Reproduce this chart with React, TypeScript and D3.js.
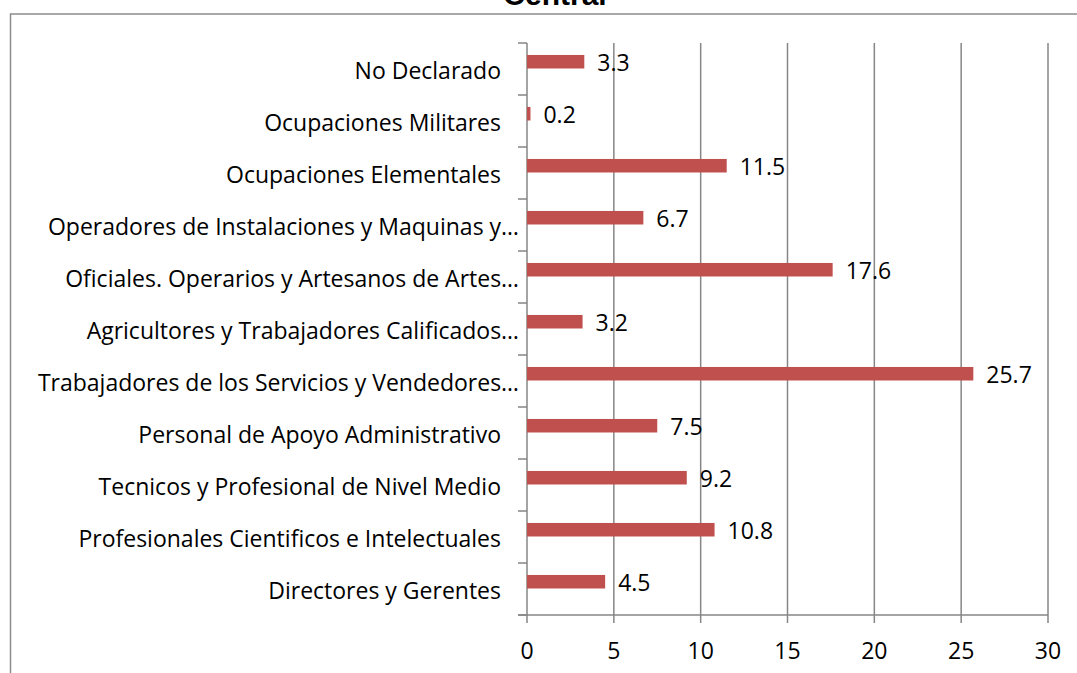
import React from "react";
import * as d3 from "d3";

const title = "Central";
const categories = [
  "Directores y Gerentes",
  "Profesionales Cientificos e Intelectuales",
  "Tecnicos y Profesional de Nivel Medio",
  "Personal de Apoyo Administrativo",
  "Trabajadores de los Servicios y Vendedores…",
  "Agricultores y Trabajadores Calificados…",
  "Oficiales. Operarios y Artesanos de Artes…",
  "Operadores de Instalaciones y Maquinas y…",
  "Ocupaciones Elementales",
  "Ocupaciones Militares",
  "No Declarado",
];
const values = [4.5, 10.8, 9.2, 7.5, 25.7, 3.2, 17.6, 6.7, 11.5, 0.2, 3.3];
const xTicks = [0, 5, 10, 15, 20, 25, 30];

const W = 1077;
const H = 673;
const FONT = "'Open Sans', Lato, sans-serif";
const FS = 23;
const GRID = "#868686";
const BAR = "#C0504D";

export default function App() {
  const x = d3.scaleLinear().domain([0, 30]).range([527, 1048]);
  const y = d3
    .scaleBand<string>()
    .domain([...categories].reverse())
    .range([43, 615])
    .padding(0);
  const bw = y.bandwidth();
  const boundaries = d3.range(categories.length + 1).map((i) => 43 + i * bw);

  return (
    <svg
      width={W}
      height={H}
      style={{ position: "absolute", left: 0, top: 0, background: "#fff" }}
      fontFamily={FONT}
    >
      <rect x={0} y={0} width={W} height={H} fill="#fff" />
      <rect x={10.5} y={14} width={W + 50} height={H + 50} fill="none" stroke="#8c8c8c" strokeWidth={1.5} />
      <text x={555} y={5} textAnchor="middle" fontWeight="bold" fontSize={30} fill="#000" fontFamily="'Liberation Sans', Arial, sans-serif">
        {title}
      </text>

      {xTicks.slice(1).map((t) => (
        <line key={"g" + t} x1={x(t)} x2={x(t)} y1={43} y2={623} stroke={GRID} strokeWidth={1.5} />
      ))}
      <line x1={518} x2={x(30)} y1={615} y2={615} stroke={GRID} strokeWidth={1.5} />
      <line x1={x(0)} x2={x(0)} y1={43} y2={623} stroke={GRID} strokeWidth={1.5} />
      {boundaries.map((b, i) => (
        <line key={"b" + i} x1={518} x2={x(0)} y1={b} y2={b} stroke={GRID} strokeWidth={1.5} />
      ))}
      {xTicks.map((t) => (
        <text key={"t" + t} x={x(t)} y={650} textAnchor="middle" dominantBaseline="central" fontSize={FS} fill="#000">
          {t}
        </text>
      ))}

      {categories.map((c, i) => {
        const v = values[i];
        const top = y(c)! + bw * 0.23;
        const h = bw * 0.26;
        const ell = c.endsWith("…");
        return (
          <g key={c}>
            <rect x={x(0)} y={top} width={x(v) - x(0)} height={h} fill={BAR} />
            <text x={x(v) + 13} y={top + h / 2} dominantBaseline="central" fontSize={FS} fill="#000">
              {v.toFixed(1)}
            </text>
            <text x={ell ? 519 : 501} y={y(c)! + bw / 2 + 1} textAnchor="end" dominantBaseline="central" fontSize={FS} fill="#000">
              {c}
            </text>
          </g>
        );
      })}
    </svg>
  );
}
